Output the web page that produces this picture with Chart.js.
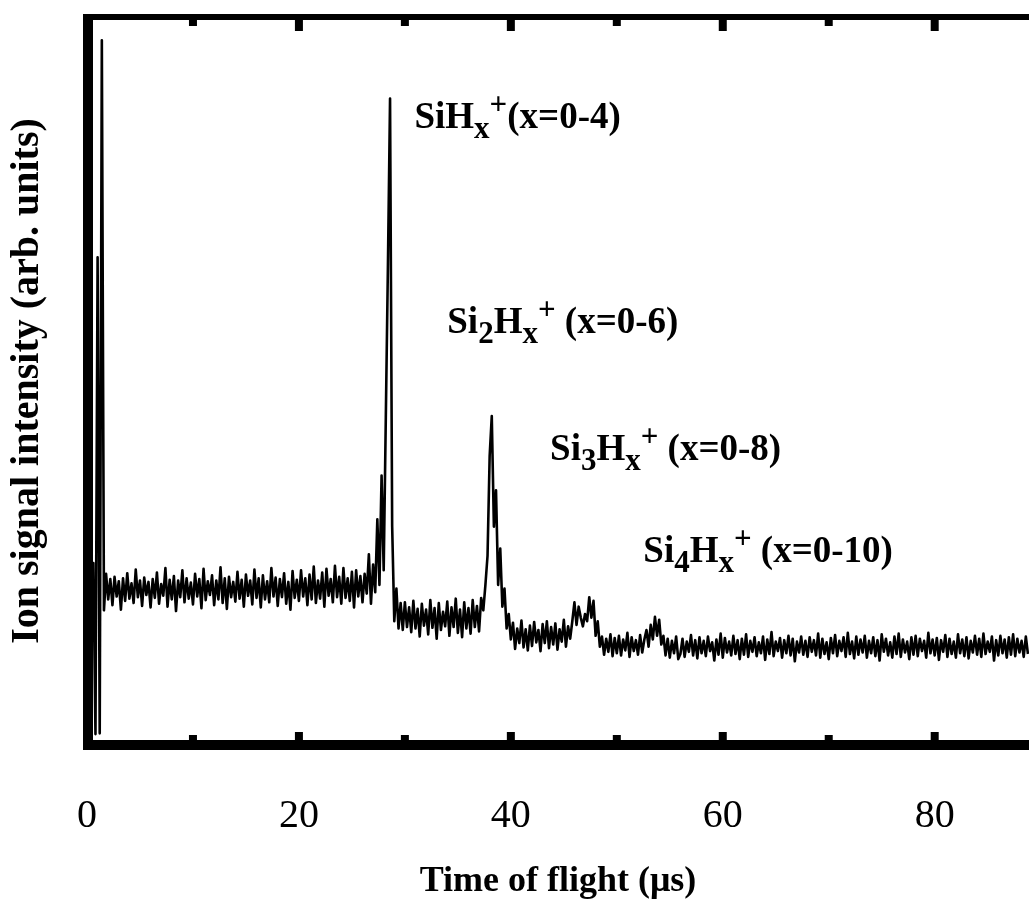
<!DOCTYPE html>
<html>
<head>
<meta charset="utf-8">
<title>Time of flight spectrum</title>
<script src="https://cdn.jsdelivr.net/npm/chart.js@4.4.0/dist/chart.umd.min.js"></script>
<style>
  body { margin: 0; background: #fff; }
  #wrap { width: 1029px; height: 919px; }
</style>
</head>
<body>
<div id="wrap"><canvas id="tof"></canvas></div>
<script>
// trace is sampled every 0.2 us starting at t = 0
const sampleStep = 0.2;

// ion signal (arb. units), 10 samples per row = 2 us per row
const intensity = [
  21.0, 24.5, 19.5, 25.0, 1.5, 67.0, 1.6, 96.8, 18.5, 23.5,
  20.0, 22.8, 19.2, 23.1, 20.4, 22.5, 18.6, 22.9, 19.8, 23.6,
  20.1, 22.2, 19.5, 24.1, 20.3, 22.6, 19.1, 23.0, 20.6, 22.4,
  18.9, 22.8, 20.2, 23.7, 19.4, 22.1, 20.5, 24.3, 19.0, 22.7,
  20.0, 23.2, 18.4, 22.6, 20.3, 24.0, 19.6, 22.9, 20.1, 22.3,
  19.3, 23.5, 20.4, 22.8, 18.8, 24.2, 19.9, 22.5, 20.6, 23.3,
  19.2, 22.6, 20.0, 24.4, 19.5, 22.9, 18.7, 23.1, 20.3, 22.4,
  19.7, 23.8, 20.1, 22.7, 19.0, 23.4, 20.5, 22.6, 19.3, 24.1,
  20.2, 22.9, 18.9, 23.3, 20.0, 22.5, 19.6, 24.3, 20.4, 23.0,
  19.1, 22.8, 20.3, 23.6, 19.4, 22.4, 18.6, 23.9, 20.2, 22.7,
  19.8, 24.0, 20.4, 22.9, 19.2, 23.4, 20.0, 24.5, 19.5, 22.6,
  20.1, 23.7, 19.0, 24.2, 20.5, 22.8, 19.6, 24.6, 20.3, 23.1,
  19.4, 24.3, 20.2, 22.9, 19.8, 23.8, 18.9, 24.0, 20.4, 23.2,
  19.6, 23.5, 20.8, 26.2, 19.4, 24.8, 21.0, 31.0, 22.0, 37.0,
  24.0, 45.0, 66.0, 88.8, 30.0, 17.0, 21.5, 16.0, 19.5, 15.8,
  19.6, 16.2, 18.9, 15.5, 19.8, 16.0, 18.7, 14.9, 19.4, 16.4,
  18.6, 15.2, 19.9, 16.1, 18.8, 14.6, 19.5, 15.8, 18.3, 16.3,
  19.7, 15.0, 18.9, 16.2, 20.1, 15.4, 18.6, 14.8, 19.6, 16.0,
  18.8, 15.3, 19.9, 16.2, 19.1, 15.6, 20.2, 18.5, 22.0, 26.0,
  39.7, 45.2, 30.0, 35.0, 22.0, 27.0, 19.0, 21.5, 16.0, 18.0,
  14.5, 16.8, 13.2, 16.0, 14.0, 17.1, 13.4, 15.9, 13.0, 16.4,
  13.6, 16.9, 14.1, 15.8, 12.9, 16.6, 14.0, 17.0, 13.3, 16.2,
  13.8, 16.7, 13.1, 15.9, 14.2, 17.2, 13.5, 16.3, 14.6, 17.0,
  19.6, 16.5, 19.0, 17.5, 16.3, 18.0, 17.0, 20.3, 17.5, 19.8,
  15.0, 17.0, 13.5, 14.9, 12.4, 14.6, 12.8, 15.2, 12.2, 14.7,
  12.6, 15.0, 12.3, 14.5, 13.0, 15.4, 12.1, 14.8, 12.9, 14.4,
  12.4, 15.1, 12.7, 14.5, 15.8, 13.5, 16.5, 14.5, 17.6, 15.0,
  17.2, 13.8, 15.0, 12.3, 14.6, 12.0, 14.3, 12.6, 14.9, 11.8,
  12.5, 14.6, 12.1, 14.2, 12.8, 15.1, 12.3, 14.4, 11.9, 14.8,
  12.6, 14.3, 12.2, 14.9, 12.9, 14.1, 11.6, 14.5, 12.4, 15.3,
  12.0, 14.7, 12.7, 14.2, 12.3, 15.0, 12.5, 14.4, 11.8, 14.6,
  12.4, 15.2, 12.1, 14.3, 12.8, 14.8, 12.2, 14.1, 12.6, 14.9,
  11.7, 14.5, 12.5, 15.5, 12.2, 14.2, 12.9, 14.7, 12.0, 14.4,
  12.6, 15.0, 12.3, 14.6, 11.5, 14.2, 12.7, 14.9, 12.4, 14.3,
  12.1, 14.8, 12.8, 14.4, 12.3, 15.3, 12.0, 14.6, 12.5, 14.1,
  11.8, 14.7, 12.6, 15.1, 12.2, 14.3, 12.9, 14.8, 12.1, 15.4,
  12.5, 14.2, 11.9, 14.9, 12.4, 14.5, 12.7, 15.0, 12.0, 14.3,
  12.6, 14.8, 12.2, 14.4, 11.6, 15.2, 12.8, 14.6, 12.3, 14.1,
  12.0, 14.9, 12.5, 15.3, 12.1, 14.5, 12.7, 14.2, 11.8, 14.8,
  12.4, 15.0, 12.2, 14.6, 12.9, 14.3, 12.0, 15.4, 12.6, 14.5,
  12.3, 14.7, 11.7, 14.4, 12.8, 15.1, 12.1, 14.6, 12.5, 14.2,
  12.0, 15.2, 12.6, 14.5, 12.2, 14.8, 11.9, 14.3, 12.7, 15.0,
  12.4, 14.6, 12.1, 15.3, 12.5, 14.2, 12.8, 14.9, 11.6, 14.4,
  12.3, 15.0, 12.6, 14.5, 12.0, 14.8, 12.4, 15.2, 12.2, 14.6,
  12.7, 14.3, 12.1, 14.9, 12.5
];

// x axis: labelled every 20 us, tick marks every 10 us
const xLabelStep = 20;
const xTickMarks = [10, 20, 30, 40, 50, 60, 70, 80];
const xMax = 88.9;

// peak assignments: [text, 0 = normal / -1 = subscript / 1 = superscript]
const peakLabels = [
  [['SiH', 0], ['x', -1], ['+', 1], ['(x=0-4)', 0]],
  [['Si', 0], ['2', -1], ['H', 0], ['x', -1], ['+', 1], [' (x=0-6)', 0]],
  [['Si', 0], ['3', -1], ['H', 0], ['x', -1], ['+', 1], [' (x=0-8)', 0]],
  [['Si', 0], ['4', -1], ['H', 0], ['x', -1], ['+', 1], [' (x=0-10)', 0]]
];

const serif = '"Liberation Serif", "Times New Roman", Times, serif';

// where each assignment sits (time, intensity of text baseline)
const labelSpots = [[30.9, 84.8], [34.0, 56.6], [43.7, 39.1], [52.5, 25.1]];

const points = intensity.map((v, i) => ({ x: +(i * sampleStep).toFixed(2), y: v }));

const peakLabelPlugin = {
  id: 'peakLabels',
  afterDatasetsDraw(chart) {
    const { ctx, scales: { x, y } } = chart;
    ctx.save();
    ctx.fillStyle = '#000';
    ctx.textBaseline = 'alphabetic';
    ctx.textAlign = 'left';
    peakLabels.forEach((parts, i) => {
      let px = x.getPixelForValue(labelSpots[i][0]);
      const py = y.getPixelForValue(labelSpots[i][1]);
      parts.forEach(([txt, shift]) => {
        ctx.font = (shift ? 'bold 31px ' : 'bold 37px ') + serif;
        const dy = shift < 0 ? 10 : (shift > 0 ? -14 : 0);
        ctx.fillText(txt, px, py + dy);
        px += ctx.measureText(txt).width;
      });
    });
    ctx.restore();
  }
};

// heavy frame on left, top and bottom with inward ticks
const framePlugin = {
  id: 'frame',
  afterDraw(chart) {
    const { ctx, chartArea: a, scales: { x } } = chart;
    ctx.save();
    ctx.fillStyle = '#000';
    ctx.fillRect(a.left - 4, a.top - 3, 10, a.bottom - a.top + 8);
    ctx.fillRect(a.left - 4, a.top - 3, a.right - a.left + 4, 6);
    ctx.fillRect(a.left - 4, a.bottom - 5, a.right - a.left + 4, 10);
    xTickMarks.forEach(t => {
      const px = x.getPixelForValue(t);
      const major = t % xLabelStep === 0;
      ctx.fillRect(px - 4, a.top + 3, 8, major ? 11 : 6);
      ctx.fillRect(px - 4, a.bottom - 5 - (major ? 8 : 5), 8, major ? 8 : 5);
    });
    ctx.restore();
  }
};

new Chart(document.getElementById('tof'), {
  type: 'line',
  data: {
    datasets: [{
      data: points,
      borderColor: '#000',
      borderWidth: 2.6,
      borderJoinStyle: 'round',
      pointRadius: 0,
      tension: 0,
      fill: false
    }]
  },
  options: {
    responsive: true,
    maintainAspectRatio: false,
    animation: false,
    layout: { padding: { top: 17, left: 0, right: 0, bottom: 0 } },
    plugins: { legend: { display: false }, tooltip: { enabled: false } },
    scales: {
      x: {
        type: 'linear',
        min: 0,
        max: xMax,
        afterFit: s => { s.height = 174; },
        grid: { display: false },
        border: { display: false },
        ticks: {
          stepSize: xLabelStep,
          includeBounds: false,
          padding: 39,
          maxRotation: 0,
          color: '#000',
          font: { family: serif, size: 40 }
        },
        title: {
          display: true,
          text: 'Time of flight (μs)',
          color: '#000',
          font: { family: serif, size: 36, weight: 'bold' },
          padding: { top: 0, bottom: 16 }
        }
      },
      y: {
        min: 0,
        max: 100,
        afterFit: s => { s.width = 87; },
        grid: { display: false },
        border: { display: false },
        ticks: { display: false },
        title: {
          display: true,
          text: 'Ion signal intensity (arb. units)',
          color: '#000',
          font: { family: serif, size: 40, weight: 'bold' },
          padding: { top: 4, bottom: 0 }
        }
      }
    }
  },
  plugins: [peakLabelPlugin, framePlugin]
});
</script>
</body>
</html>
